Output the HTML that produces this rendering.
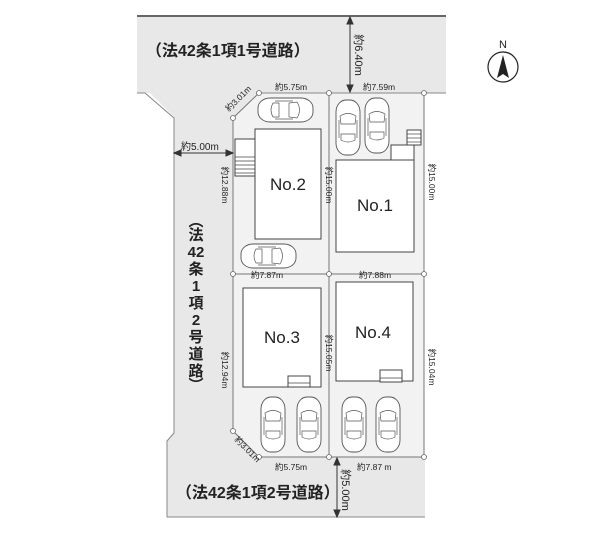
<!DOCTYPE html>
<html><head><meta charset="utf-8"><style>
html,body{margin:0;padding:0;background:#fff;}
svg{display:block;font-family:"Liberation Sans","Noto Sans CJK JP",sans-serif;}
</style></head><body>
<svg width="600" height="534" viewBox="0 0 600 534" xmlns="http://www.w3.org/2000/svg">
<defs>
<g id="car">
<rect x="0" y="0" width="24" height="55" rx="10" ry="12" fill="#fff" stroke="#555" stroke-width="0.9"/>
<path d="M4 16 Q12 11 20 16 L19 24 L5 24 Z" fill="none" stroke="#555" stroke-width="0.7"/>
<path d="M5 40 Q12 44 19 40 L19 34 L5 34 Z" fill="none" stroke="#555" stroke-width="0.7"/>
<line x1="3" y1="20" x2="3" y2="38" stroke="#555" stroke-width="0.7"/>
<line x1="21" y1="20" x2="21" y2="38" stroke="#555" stroke-width="0.7"/>
</g>
</defs>
<path d="M137 16 L446 16 L446 93 L259 93 L233 118 L233 431 L259 457 L425 457 L425 517 L167 517 L167 440 L174 433 L174 117 L150 93 L137 93 Z" fill="#e8e8e8"/>
<line x1="137" y1="16" x2="446" y2="16" stroke="#666" stroke-width="2"/>
<path d="M137 93 L145 93 L174 118 L174 433 L167 441 L167 517 L425 517" fill="none" stroke="#888" stroke-width="1"/>
<path d="M259 93 L424 93 L424 457 L259 457 L233 431 L233 118 Z" fill="#f2f2f2" stroke="#777" stroke-width="1"/>
<line x1="329" y1="93" x2="329" y2="457" stroke="#777" stroke-width="1"/>
<line x1="233" y1="274" x2="424" y2="274" stroke="#777" stroke-width="1"/>
<line x1="259" y1="93" x2="446" y2="93" stroke="#888" stroke-width="1"/>
<g fill="#fff" stroke="#666" stroke-width="0.8">
<circle cx="259" cy="93" r="2.5"/><circle cx="329" cy="93" r="2.5"/><circle cx="424" cy="93" r="2.5"/>
<circle cx="233" cy="118" r="2.5"/><circle cx="233" cy="274" r="2.5"/><circle cx="329" cy="274" r="2.5"/><circle cx="424" cy="274" r="2.5"/>
<circle cx="233" cy="431" r="2.5"/><circle cx="259" cy="457" r="2.5"/><circle cx="329" cy="457" r="2.5"/><circle cx="424" cy="457" r="2.5"/>
</g>
<g fill="#fff" stroke="#444" stroke-width="1">
<rect x="255" y="129" width="66" height="110"/>
<rect x="336" y="160" width="78" height="92"/>
<rect x="243" y="288" width="78" height="99"/>
<rect x="336" y="282" width="77" height="99"/>
<rect x="235" y="139" width="20" height="37"/>
<rect x="391" y="145" width="23" height="15"/>
<rect x="407" y="130" width="14" height="15"/>
<rect x="288" y="376" width="22" height="11"/>
<rect x="380" y="370" width="22" height="12"/>
</g>
<g stroke="#444" stroke-width="0.7">
<line x1="235" y1="157" x2="255" y2="157"/><line x1="235" y1="161" x2="255" y2="161"/><line x1="235" y1="165" x2="255" y2="165"/><line x1="235" y1="169" x2="255" y2="169"/><line x1="235" y1="173" x2="255" y2="173"/>
<line x1="407" y1="134" x2="421" y2="134"/><line x1="407" y1="138" x2="421" y2="138"/><line x1="407" y1="142" x2="421" y2="142"/>
<line x1="288" y1="383" x2="310" y2="383"/><line x1="380" y1="378" x2="402" y2="378"/>
</g>
<use href="#car" transform="translate(313,98) rotate(90)"/>
<use href="#car" transform="translate(296,244) rotate(90)"/>
<use href="#car" x="336" y="100"/>
<use href="#car" x="365" y="98"/>
<use href="#car" x="261" y="397"/>
<use href="#car" x="297" y="397"/>
<use href="#car" x="342" y="397"/>
<use href="#car" x="376" y="397"/>
<g stroke="#333" stroke-width="1" fill="#333">
<line x1="350" y1="20" x2="350" y2="89"/>
<path d="M350 17 L347 24 L353 24 Z"/><path d="M350 92 L347 85 L353 85 Z"/>
<line x1="176" y1="153" x2="231" y2="153"/>
<path d="M174 153 L181 150 L181 156 Z"/><path d="M233 153 L226 150 L226 156 Z"/>
<line x1="337" y1="460" x2="337" y2="514"/>
<path d="M337 458 L334 465 L340 465 Z"/><path d="M337 517 L334 510 L340 510 Z"/>
</g>
<g font-weight="bold" fill="#222" font-size="16">
<text x="146" y="56">（法42条1項1号道路）</text>
<text x="176" y="498">（法42条1項2号道路）</text>
</g>
<g fill="#222" font-size="17" text-anchor="middle">
<text x="288" y="190">No.2</text>
<text x="375" y="211">No.1</text>
<text x="282" y="343">No.3</text>
<text x="373" y="338">No.4</text>
</g>
<g font-size="15" font-weight="bold" fill="#222" text-anchor="middle">
<text x="196" y="226">︵</text>
<text x="196" y="240">法</text>
<text x="196" y="257">42</text>
<text x="196" y="274">条</text>
<text x="196" y="291">1</text>
<text x="196" y="308">項</text>
<text x="196" y="325">2</text>
<text x="196" y="342">号</text>
<text x="196" y="359">道</text>
<text x="196" y="376">路</text>
<text x="196" y="390">︶</text>
</g>
<g font-size="8.5" fill="#222">
<text x="275" y="90">約5.75m</text>
<text x="363" y="90">約7.59m</text>
<text x="181" y="150" font-size="10">約5.00m</text>
<text x="267" y="278" text-anchor="middle">約7.87m</text>
<text x="375" y="278" text-anchor="middle">約7.88m</text>
<text x="275" y="470">約5.75m</text>
<text x="357" y="470">約7.87 m</text>
<text transform="translate(229,112) rotate(-45)">約3.01m</text>
<text transform="translate(234,440) rotate(45)">約3.01m</text>
<text transform="translate(222,185) rotate(90)" text-anchor="middle">約12.88m</text>
<text transform="translate(222,370) rotate(90)" text-anchor="middle">約12.94m</text>
<text transform="translate(326,185) rotate(90)" text-anchor="middle">約15.00m</text>
<text transform="translate(326,353) rotate(90)" text-anchor="middle">約15.05m</text>
<text transform="translate(429,182) rotate(90)" text-anchor="middle">約15.00m</text>
<text transform="translate(429,367) rotate(90)" text-anchor="middle">約15.04m</text>
<text transform="translate(355,55) rotate(90)" text-anchor="middle" font-size="11">約6.40m</text>
<text transform="translate(342,490) rotate(90)" text-anchor="middle" font-size="11">約5.00m</text>
</g>
<text x="503" y="48" font-size="11" text-anchor="middle" fill="#222">N</text>
<circle cx="503" cy="67" r="15" fill="none" stroke="#222" stroke-width="1.2"/>
<path d="M503 55 L497 78 L503 74 L509 78 Z" fill="#222"/>
</svg>
</body></html>
